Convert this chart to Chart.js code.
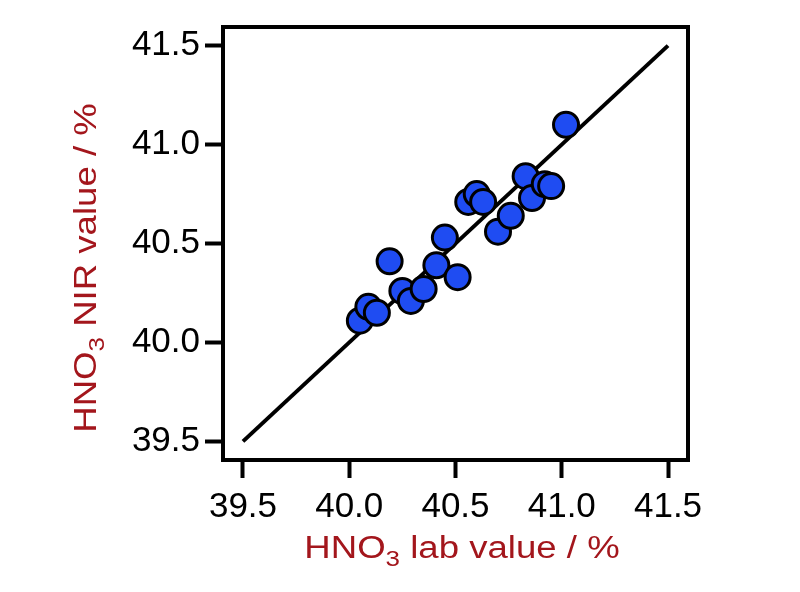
<!DOCTYPE html>
<html>
<head>
<meta charset="utf-8">
<script src="https://cdn.jsdelivr.net/npm/chart.js"></script>
<style>
  html, body { margin: 0; padding: 0; background: #fff; }
  #wrap { width: 800px; height: 592px; }
</style>
</head>
<body>
<div id="wrap"><canvas id="nirChart" width="800" height="592"></canvas></div>
<script>
// lab value (x) vs NIR prediction (y)
const labValues = [40.05, 40.09, 40.13, 40.19, 40.25, 40.29, 40.35, 40.41, 40.45, 40.51,
                   40.56, 40.60, 40.63, 40.70, 40.76, 40.83, 40.86, 40.92, 40.95, 41.02];
const nirValues = [40.11, 40.18, 40.15, 40.41, 40.26, 40.21, 40.27, 40.39, 40.53, 40.33,
                   40.71, 40.75, 40.71, 40.56, 40.64, 40.84, 40.73, 40.80, 40.79, 41.10];
const fitLine = [39.5, 41.5];
const tickValues = [39.5, 40.0, 40.5, 41.0, 41.5];
const axisMin = 39.406;
const axisMax = 41.594;

const titleColor = '#a3161c';
const fontFamily = 'Arial, "Liberation Sans", sans-serif';

// draw "HNO" + subscript 3 + rest, a bit stretched like the original
function drawSubTitle(ctx, rest, x, y, rotate) {
  ctx.save();
  ctx.translate(x, y);
  if (rotate) ctx.rotate(-Math.PI / 2);
  ctx.scale(1.18, 1);
  ctx.fillStyle = titleColor;
  ctx.textBaseline = 'alphabetic';
  const big = '31px ' + fontFamily;
  const small = '22px ' + fontFamily;
  ctx.font = big;
  const w1 = ctx.measureText('HNO').width;
  const w3 = ctx.measureText(rest).width;
  ctx.font = small;
  const w2 = ctx.measureText('3').width;
  let cx = -(w1 + w2 + w3) / 2;
  ctx.font = big;
  ctx.fillText('HNO', cx, 0);
  cx += w1;
  ctx.font = small;
  ctx.fillText('3', cx, 8);
  cx += w2;
  ctx.font = big;
  ctx.fillText(rest, cx, 0);
  ctx.restore();
}

const framePlugin = {
  id: 'frame',
  afterDatasetsDraw(chart) {
    const a = chart.chartArea;
    const ctx = chart.ctx;
    ctx.save();
    ctx.strokeStyle = '#000';
    ctx.lineWidth = 4;
    ctx.strokeRect(a.left, a.top, a.right - a.left, a.bottom - a.top);
    ctx.restore();
  },
  afterDraw(chart) {
    const ctx = chart.ctx;
    drawSubTitle(ctx, ' lab value / %', 462, 558, false);
    drawSubTitle(ctx, ' NIR value / %', 96, 268, true);
  }
};

const axisCommon = {
  type: 'linear',
  min: axisMin,
  max: axisMax,
  afterBuildTicks(scale) {
    scale.ticks = tickValues.map(v => ({ value: v }));
  },
  ticks: {
    color: '#000',
    font: { size: 35, family: fontFamily },
    padding: 5,
    callback: v => v.toFixed(1)
  },
  grid: {
    display: true,
    drawOnChartArea: false,
    drawTicks: true,
    tickLength: 18,
    tickWidth: 4,
    tickColor: '#000'
  },
  border: { display: false }
};

new Chart(document.getElementById('nirChart'), {
  type: 'scatter',
  data: {
    datasets: [
      {
        label: 'samples',
        data: labValues.map((v, i) => ({ x: v, y: nirValues[i] })),
        backgroundColor: '#1f4cf2',
        borderColor: '#000',
        borderWidth: 3,
        pointRadius: 12.5,
        pointHoverRadius: 12.5
      },
      {
        label: 'fit',
        type: 'line',
        data: fitLine.map(v => ({ x: v, y: v })),
        borderColor: '#000',
        borderWidth: 4,
        pointRadius: 0,
        fill: false
      }
    ]
  },
  options: {
    responsive: false,
    animation: false,
    layout: { padding: { top: 27, right: 112, bottom: 0, left: 0 } },
    plugins: { legend: { display: false }, tooltip: { enabled: false } },
    scales: {
      x: Object.assign({}, axisCommon, {
        ticks: Object.assign({}, axisCommon.ticks, { padding: 8 }),
        afterFit(s) { s.height = 132; }
      }),
      y: Object.assign({}, axisCommon, {
        afterFit(s) { s.width = 223; }
      })
    }
  },
  plugins: [framePlugin]
});
</script>
</body>
</html>
